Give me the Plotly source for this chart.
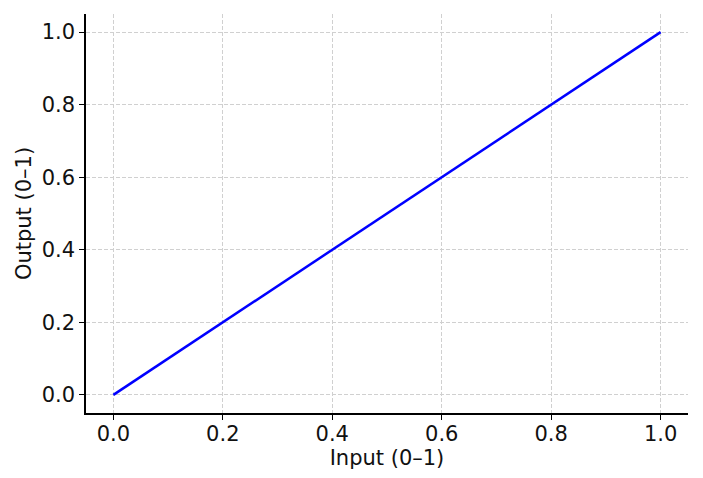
import plotly.graph_objects as go

x_vals = [0.0, 1.0]
y_vals = [0.0, 1.0]
tick_vals = [0.0, 0.2, 0.4, 0.6, 0.8, 1.0]
tick_text = ["0.0", "0.2", "0.4", "0.6", "0.8", "1.0"]

FONT = "DejaVu Sans"
FS = 21

fig = go.Figure()
fig.add_trace(go.Scatter(x=x_vals, y=y_vals, mode="lines",
                         line=dict(color="#0000ff", width=2.5), showlegend=False))

axis_common = dict(
    showline=True, linecolor="black", linewidth=1.5,
    ticks="outside", ticklen=5, tickwidth=1.2, tickcolor="black",
    showgrid=True, gridcolor="#d0d0d0", griddash="4px,2px", gridwidth=1,
    zeroline=False, mirror=False,
    tickfont=dict(family=FONT, size=FS, color="#111111"),
    tickvals=tick_vals, ticktext=tick_text,
)

fig.update_xaxes(range=[-0.05, 1.05], ticklabelstandoff=-4,
                 title=dict(text="Input (0–1)", font=dict(family=FONT, size=FS, color="#111111"), standoff=1),
                 **axis_common)
fig.update_yaxes(range=[-0.05, 1.05],
                 title=dict(text="Output (0–1)", font=dict(family=FONT, size=FS, color="#111111"), standoff=4),
                 **axis_common)

# the page body has an 8px default margin, so the figure is sized to fill the rest of the window
fig.update_layout(
    width=695, height=470,
    margin=dict(l=78, r=15, t=6, b=65),
    plot_bgcolor="white", paper_bgcolor="white",
)

fig.write_html("out.html")
